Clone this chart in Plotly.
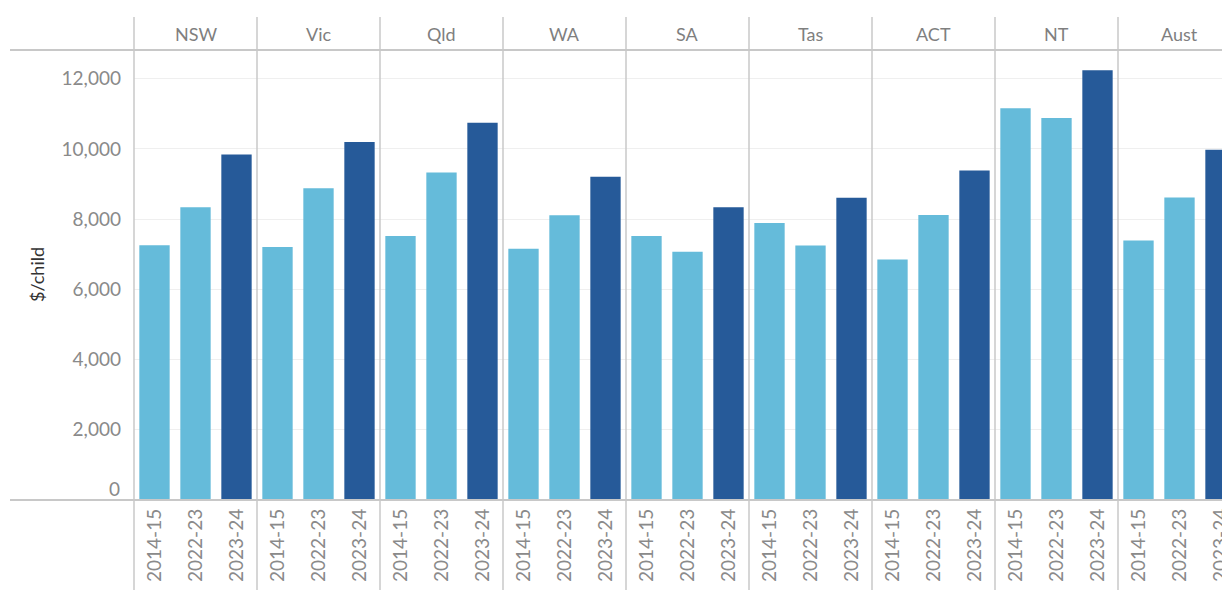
import plotly.graph_objects as go

states = ["NSW", "Vic", "Qld", "WA", "SA", "Tas", "ACT", "NT", "Aust"]
years = ["2014-15", "2022-23", "2023-24"]
v_2014_15 = [7260, 7210, 7520, 7160, 7520, 7890, 6850, 11160, 7390]
v_2022_23 = [8340, 8880, 9330, 8110, 7070, 7250, 8120, 10880, 8620]
v_2023_24 = [9840, 10200, 10750, 9210, 8340, 8610, 9390, 12240, 9980]
y_ticks = [2000, 4000, 6000, 8000, 10000, 12000]

LIGHT = "#65BBDA"
DARK = "#265A99"
GRID = "#efefef"
SEP = "#c8c8c8"
FONT = "Lato"

# page has an 8px body margin, so the figure is drawn 8px in from the top-left
OFF = 8
W, H = 1230 - OFF, 590 - OFF
L, T, B = 134 - OFF, 50 - OFF, 90
plot_w = W - L
plot_h = H - T - B
panel_px = 123.0

fig = go.Figure()
layout = {}
for i, st in enumerate(states):
    ax = "" if i == 0 else str(i + 1)
    vals = [v_2014_15[i], v_2022_23[i], v_2023_24[i]]
    fig.add_trace(go.Bar(
        x=years, y=vals,
        xaxis="x" + ax, yaxis="y",
        marker=dict(color=[LIGHT, LIGHT, DARK], line=dict(width=0)),
        showlegend=False,
        hovertemplate=st + " %{x}: %{y:,}<extra></extra>",
    ))
    d0 = panel_px * i / plot_w
    d1 = min(1.0, panel_px * (i + 1) / plot_w)
    visible_px = (d1 - d0) * plot_w
    rng = [-0.5, -0.5 + 3 * visible_px / panel_px]
    layout["xaxis" + ax] = dict(
        domain=[d0, d1], anchor="y", range=rng, type="category",
        categoryorder="array", categoryarray=years,
        showgrid=False, zeroline=False, showline=False, ticks="",
        tickangle=-90, ticklabelstandoff=4,
        tickfont=dict(family=FONT, size=19, color="#8a8a8a"),
        fixedrange=True,
    )
    fig.add_annotation(
        x=panel_px * (i + 0.5) / plot_w, xref="paper",
        y=1 + 16 / plot_h, yref="paper", text=st, showarrow=False,
        font=dict(family=FONT, size=18, color="#7f7f7f"),
        xanchor="center", yanchor="middle",
    )

layout["yaxis"] = dict(
    range=[0, 12820], tickvals=y_ticks, tickformat=",",
    showgrid=True, gridcolor=GRID, gridwidth=1, zeroline=False,
    showline=False, ticks="", ticklabelstandoff=12,
    tickfont=dict(family=FONT, size=19, color="#8a8a8a"),
    anchor="x", fixedrange=True,
)
fig.update_layout(**layout)

# "0" label sits just above the baseline
fig.add_annotation(x=-12 / plot_w, xref="paper", y=340, yref="y", text="0",
                   showarrow=False, xanchor="right", yanchor="middle",
                   font=dict(family=FONT, size=19, color="#8a8a8a"))
# axis title
fig.add_annotation(x=(37 - 134) / plot_w, xref="paper", y=0.5, yref="paper",
                   text="$/child", textangle=-90, showarrow=False,
                   xanchor="center", yanchor="middle",
                   font=dict(family=FONT, size=18, color="#333333"))

shapes = []
top_sep = 1 + (50 - 17) / plot_h
bot_sep = -B / plot_h
for i in range(9):
    xp = panel_px * i / plot_w
    shapes.append(dict(type="line", xref="paper", yref="paper", x0=xp, x1=xp,
                       y0=bot_sep, y1=top_sep, line=dict(color=SEP, width=1.5)))
left_line = (10 - 134) / plot_w
for yp in (0, 1):
    shapes.append(dict(type="line", xref="paper", yref="paper", x0=left_line, x1=1.01,
                       y0=yp, y1=yp, line=dict(color=SEP, width=2)))

fig.update_layout(
    width=W, height=H, autosize=False,
    margin=dict(l=L, r=0, t=T, b=B, pad=0),
    paper_bgcolor="white", plot_bgcolor="white",
    bargap=0.26, shapes=shapes,
    font=dict(family=FONT),
)

fig.write_html("out.html")
